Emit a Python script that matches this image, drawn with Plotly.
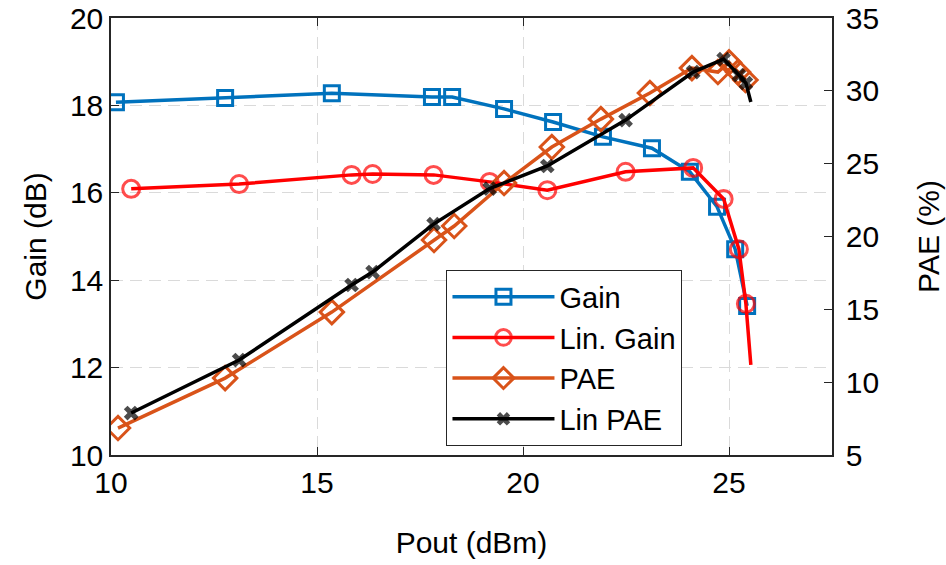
import plotly.graph_objects as go

# Measured sweep: output power (dBm)
pout_meas = [10.12, 12.77, 15.36, 17.79, 18.28, 19.54, 20.73, 21.94, 23.13,
             24.05, 24.71, 25.15, 25.44]
gain_meas = [18.07, 18.17, 18.28, 18.19, 18.19, 17.92, 17.62, 17.28, 17.02,
             16.48, 15.68, 14.71, 13.41]

pout_pae = [10.17, 12.77, 15.36, 17.84, 18.33, 19.54, 20.70, 21.89, 23.08,
            24.10, 24.73, 25.00, 25.22, 25.40]
pae_meas = [6.85, 10.28, 14.81, 19.76, 20.72, 23.67, 26.14, 28.06, 29.85,
            31.56, 31.29, 31.95, 31.29, 30.74]

# Linearized operation
pout_lin = [10.49, 13.11, 15.84, 16.35, 17.83, 19.19, 20.59, 22.49, 24.13,
            24.87, 25.24, 25.41, 25.53]
gain_lin = [16.09, 16.20, 16.41, 16.43, 16.41, 16.25, 16.06, 16.48, 16.57,
            15.86, 14.71, 13.46, 12.06]
pae_lin = [7.88, 11.52, 16.67, 17.56, 20.85, 23.29, 24.84, 27.99, 31.29,
           32.18, 31.08, 30.53, 29.23]

x_ticks = [10, 15, 20, 25]
gain_ticks = [10, 12, 14, 16, 18, 20]
pae_ticks = [5, 10, 15, 20, 25, 30, 35]

FONT = "Liberation Sans, Arial, sans-serif"
INK = "#262626"
GRID = "#dadada"

# last linearized point is drawn as line only
lin_sizes = [17] * (len(pout_lin) - 1) + [0]
linx_sizes = [13] * (len(pout_lin) - 1) + [0]

fig = go.Figure()
fig.add_trace(go.Scatter(
    x=pout_meas, y=gain_meas, name="Gain", mode="lines+markers",
    line=dict(color="#0072BD", width=3.5),
    marker=dict(symbol="square-open", size=15, line=dict(width=3, color="#0072BD")),
    yaxis="y"))
fig.add_trace(go.Scatter(
    x=pout_lin, y=gain_lin, name="Lin. Gain", mode="lines+markers",
    line=dict(color="#FF0000", width=3.5),
    marker=dict(symbol="circle-open", size=lin_sizes, line=dict(width=3, color="#FF0000")),
    yaxis="y"))
fig.add_trace(go.Scatter(
    x=pout_pae, y=pae_meas, name="PAE", mode="lines+markers",
    line=dict(color="#D95319", width=3.5),
    marker=dict(symbol="diamond-open", size=18, line=dict(width=3, color="#D95319")),
    yaxis="y2"))
fig.add_trace(go.Scatter(
    x=pout_lin, y=pae_lin, name="Lin PAE", mode="lines+markers",
    line=dict(color="#000000", width=3.5),
    marker=dict(symbol="x", size=linx_sizes, color="#000000", line=dict(width=0)),
    yaxis="y2"))

axis_common = dict(
    showline=True, linecolor=INK, linewidth=1.5,
    ticks="inside", ticklen=8, tickwidth=1.3, tickcolor=INK,
    tickfont=dict(family=FONT, size=30, color="#000000"),
    zeroline=False, automargin=False,
)
title_font = dict(family=FONT, size=30, color="#000000")

fig.update_layout(
    width=946, height=565,
    margin=dict(l=111, r=114, t=18, b=110),
    paper_bgcolor="white", plot_bgcolor="white",
    font=dict(family=FONT, color="#000000"),
    showlegend=True,
    legend=dict(
        x=0.465, y=0.423, xanchor="left", yanchor="top",
        bgcolor="white", bordercolor=INK, borderwidth=1.2,
        font=dict(family=FONT, size=29, color="#000000"),
        tracegroupgap=0, itemwidth=102,
    ),
    xaxis=dict(
        range=[10, 27.5], tickvals=x_ticks, mirror="ticks",
        showgrid=True, gridcolor=GRID, gridwidth=1.2, griddash="12px,7px",
        title=dict(text="Pout (dBm)", font=title_font, standoff=34),
        **axis_common,
    ),
    yaxis=dict(
        range=[10, 20], tickvals=gain_ticks,
        showgrid=True, gridcolor=GRID, gridwidth=1.2, griddash="12px,7px",
        title=dict(text="Gain (dB)", font=title_font, standoff=14),
        **axis_common,
    ),
    yaxis2=dict(
        range=[5, 35], tickvals=pae_ticks, overlaying="y", side="right",
        showgrid=False, ticklabelstandoff=6,
        title=dict(text="PAE (%)", font=title_font, standoff=40),
        **axis_common,
    ),
)

fig.write_html("out.html")
